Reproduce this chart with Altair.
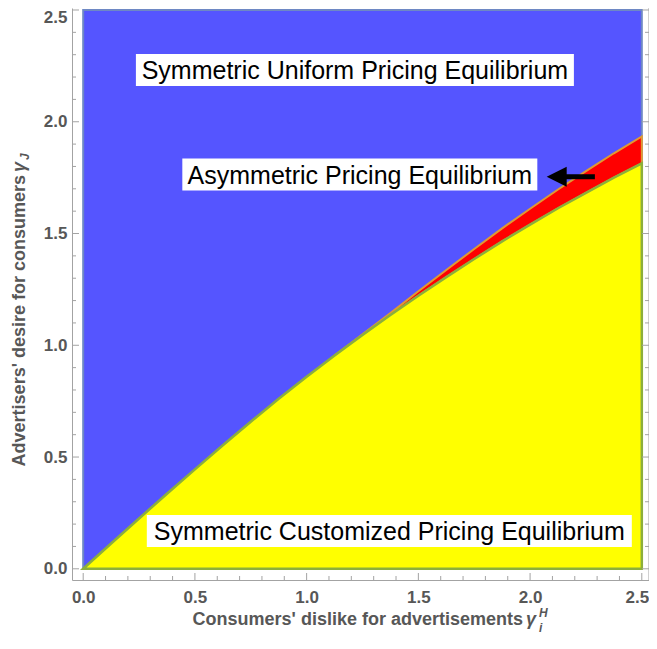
import altair as alt
import pandas as pd

# ---- boundary curves ----
x_grid = [0.0, 0.125, 0.25, 0.375, 0.5, 0.625, 0.75, 0.875, 1.0, 1.125, 1.25,
          1.375, 1.5, 1.625, 1.75, 1.875, 2.0, 2.125, 2.25, 2.375, 2.5]
lower = [0.0, 0.113, 0.225, 0.336, 0.445, 0.553, 0.658, 0.761, 0.859, 0.954, 1.046,
         1.135, 1.222, 1.305, 1.386, 1.465, 1.540, 1.613, 1.682, 1.750, 1.814]

x_red = [1.125, 1.25, 1.375, 1.5, 1.625, 1.75, 1.875, 2.0, 2.125, 2.25, 2.375, 2.5]
red_low = [0.954, 1.046, 1.135, 1.222, 1.305, 1.386, 1.465, 1.540, 1.613, 1.682, 1.750, 1.814]
red_up = [0.954, 1.049, 1.144, 1.242, 1.337, 1.431, 1.523, 1.611, 1.697, 1.779, 1.859, 1.934]

region_x = [0.0, 2.5]
region_y = [0.0, 2.5]

# ---- annotations ----
label_texts = ["Symmetric Uniform Pricing Equilibrium",
               "Asymmetric Pricing Equilibrium",
               "Symmetric Customized Pricing Equilibrium"]
label_x = [1.216, 1.238, 1.370]
label_y = [2.232, 1.764, 0.169]
label_box_w = [438, 355, 485]

arrow_head_x = [2.119]
arrow_shaft_x = [2.16, 2.29]
arrow_y = [1.754]

tick_major = [0.0, 0.5, 1.0, 1.5, 2.0, 2.5]
tick_minor = [round(i * 0.1, 1) for i in range(26) if i % 5 != 0]

x_title = "Consumers' dislike for advertisements"
y_title = "Advertisers' desire for consumers"
greek = "γ"
x_sup = "H"
x_sub = "i"
y_sub = "J"

# ---- styles ----
W, H = 577, 572
FRAME = "#a3a3a3"
GRAY = "#575757"
FONT = "Liberation Sans"

XS = alt.Scale(domain=[-0.0501, 2.5322], nice=False, zero=False)
YS = alt.Scale(domain=[-0.0501, 2.5089], nice=False, zero=False)

XAX = alt.Axis(values=tick_major, format=".1f", ticks=False, tickSize=0, labelPadding=9,
               labelFontSize=17, labelFontWeight="bold", labelColor=GRAY, labelFont=FONT,
               labelOffset=alt.condition("datum.value >= 2.5", alt.value(-5), alt.value(0)),
               domainColor=FRAME, domainWidth=1, grid=False, title=None, labelOverlap=False)
YAX = alt.Axis(values=tick_major, format=".1f", ticks=False, tickSize=0, labelPadding=5,
               labelFontSize=17, labelFontWeight="bold", labelColor=GRAY, labelFont=FONT,
               labelOffset=alt.condition("datum.value >= 2.5", alt.value(8), alt.value(0)),
               domainColor=FRAME, domainWidth=1, grid=False, title=None, labelOverlap=False)


def X(f):
    return alt.X(f, type="quantitative", scale=XS, axis=XAX)


def Y(f):
    return alt.Y(f, type="quantitative", scale=YS, axis=YAX)


reg = pd.DataFrame({"x0": [region_x[0]], "x1": [region_x[1]],
                    "y0": [region_y[0]], "y1": [region_y[1]]})
blue = alt.Chart(reg).mark_rect(fill="#5555FF", stroke="#6E88C4", strokeWidth=2).encode(
    x=X("x0"), x2="x1", y=Y("y0"), y2="y1")

red_df = pd.DataFrame({"x": x_red, "lo": red_low, "up": red_up})
red = alt.Chart(red_df).mark_area(fill="#FF0000", stroke="#E09A32", strokeWidth=2).encode(
    x=X("x"), y=Y("up"), y2="lo")

yel_df = pd.DataFrame({"x": x_grid, "lo": lower})
yellow = alt.Chart(yel_df).mark_area(fill="#FFFF00", stroke="#8CAF3C", strokeWidth=2.5).encode(
    x=X("x"), y=Y("lo"), y2=alt.datum(0))

layers = [blue, red, yellow]

for t, lx, ly, bw in zip(label_texts, label_x, label_y, label_box_w):
    d = pd.DataFrame({"x": [lx], "y": [ly], "t": [t]})
    layers.append(alt.Chart(d).mark_rect(width=bw, height=32, fill="white").encode(
        x=X("x"), y=Y("y")))
    layers.append(alt.Chart(d).mark_text(font=FONT, fontSize=25, color="black", align="center",
                                         baseline="alphabetic", dy=9).encode(
        x=X("x"), y=Y("y"), text="t:N"))

# arrow
shaft = pd.DataFrame({"x0": [arrow_shaft_x[0]], "x1": [arrow_shaft_x[1]], "y": arrow_y})
layers.append(alt.Chart(shaft).mark_rule(color="black", strokeWidth=5).encode(
    x=X("x0"), x2="x1", y=Y("y")))
head = pd.DataFrame({"x": arrow_head_x, "y": arrow_y})
layers.append(alt.Chart(head).mark_point(shape="M1,-1L-1,0L1,1Z", size=400, filled=True,
                                         color="black", opacity=1).encode(
    x=X("x"), y=Y("y")))

# frame ticks (inward)
for vals, ln in ((tick_major, 7), (tick_minor, 4)):
    td = pd.DataFrame({"t": vals})
    layers.append(alt.Chart(td).mark_rule(color=FRAME, strokeWidth=1).encode(
        x=X("t"), y=alt.value(H), y2=alt.value(H - ln)))
    layers.append(alt.Chart(td).mark_rule(color=FRAME, strokeWidth=1).encode(
        y=Y("t"), x=alt.value(0), x2=alt.value(ln)))
    layers.append(alt.Chart(td).mark_rule(color=FRAME, strokeWidth=1).encode(
        y=Y("t"), x=alt.value(W), x2=alt.value(W - ln)))

one = pd.DataFrame({"a": [0]})
layers.append(alt.Chart(one).mark_rule(color=FRAME, strokeWidth=1).encode(
    x=alt.value(W), y=alt.value(0), y2=alt.value(H)))

# axis titles
tt = pd.DataFrame({"xt": [x_title], "yt": [y_title], "g": [greek], "hs": [x_sup],
                   "is": [x_sub], "js": [y_sub]})
base_t = dict(font=FONT, fontWeight="bold", color=GRAY, baseline="alphabetic")
layers.append(alt.Chart(tt).mark_text(align="right", fontSize=18, **base_t).encode(
    x=alt.value(451), y=alt.value(617), text="xt:N"))
layers.append(alt.Chart(tt).mark_text(align="left", fontSize=18, fontStyle="italic", **base_t).encode(
    x=alt.value(454), y=alt.value(617), text="g:N"))
layers.append(alt.Chart(tt).mark_text(align="left", fontSize=12, fontStyle="italic", **base_t).encode(
    x=alt.value(467), y=alt.value(609), text="hs:N"))
layers.append(alt.Chart(tt).mark_text(align="left", fontSize=12, fontStyle="italic", **base_t).encode(
    x=alt.value(467), y=alt.value(624), text="is:N"))

layers.append(alt.Chart(tt).mark_text(align="right", fontSize=18, angle=270, **base_t).encode(
    x=alt.value(-47), y=alt.value(167), text="yt:N"))
layers.append(alt.Chart(tt).mark_text(align="left", fontSize=18, angle=270, fontStyle="italic", **base_t).encode(
    x=alt.value(-47), y=alt.value(164), text="g:N"))
layers.append(alt.Chart(tt).mark_text(align="left", fontSize=12, angle=270, fontStyle="italic", **base_t).encode(
    x=alt.value(-43), y=alt.value(152), text="js:N"))

chart = alt.layer(*layers).properties(
    width=W, height=H,
    autosize=alt.AutoSizeParams(type="none"),
    padding={"left": 64, "top": 0, "right": 0, "bottom": 61},
).configure_view(stroke=None)

chart.save("out.html", embed_options={"renderer": "svg", "actions": False})
